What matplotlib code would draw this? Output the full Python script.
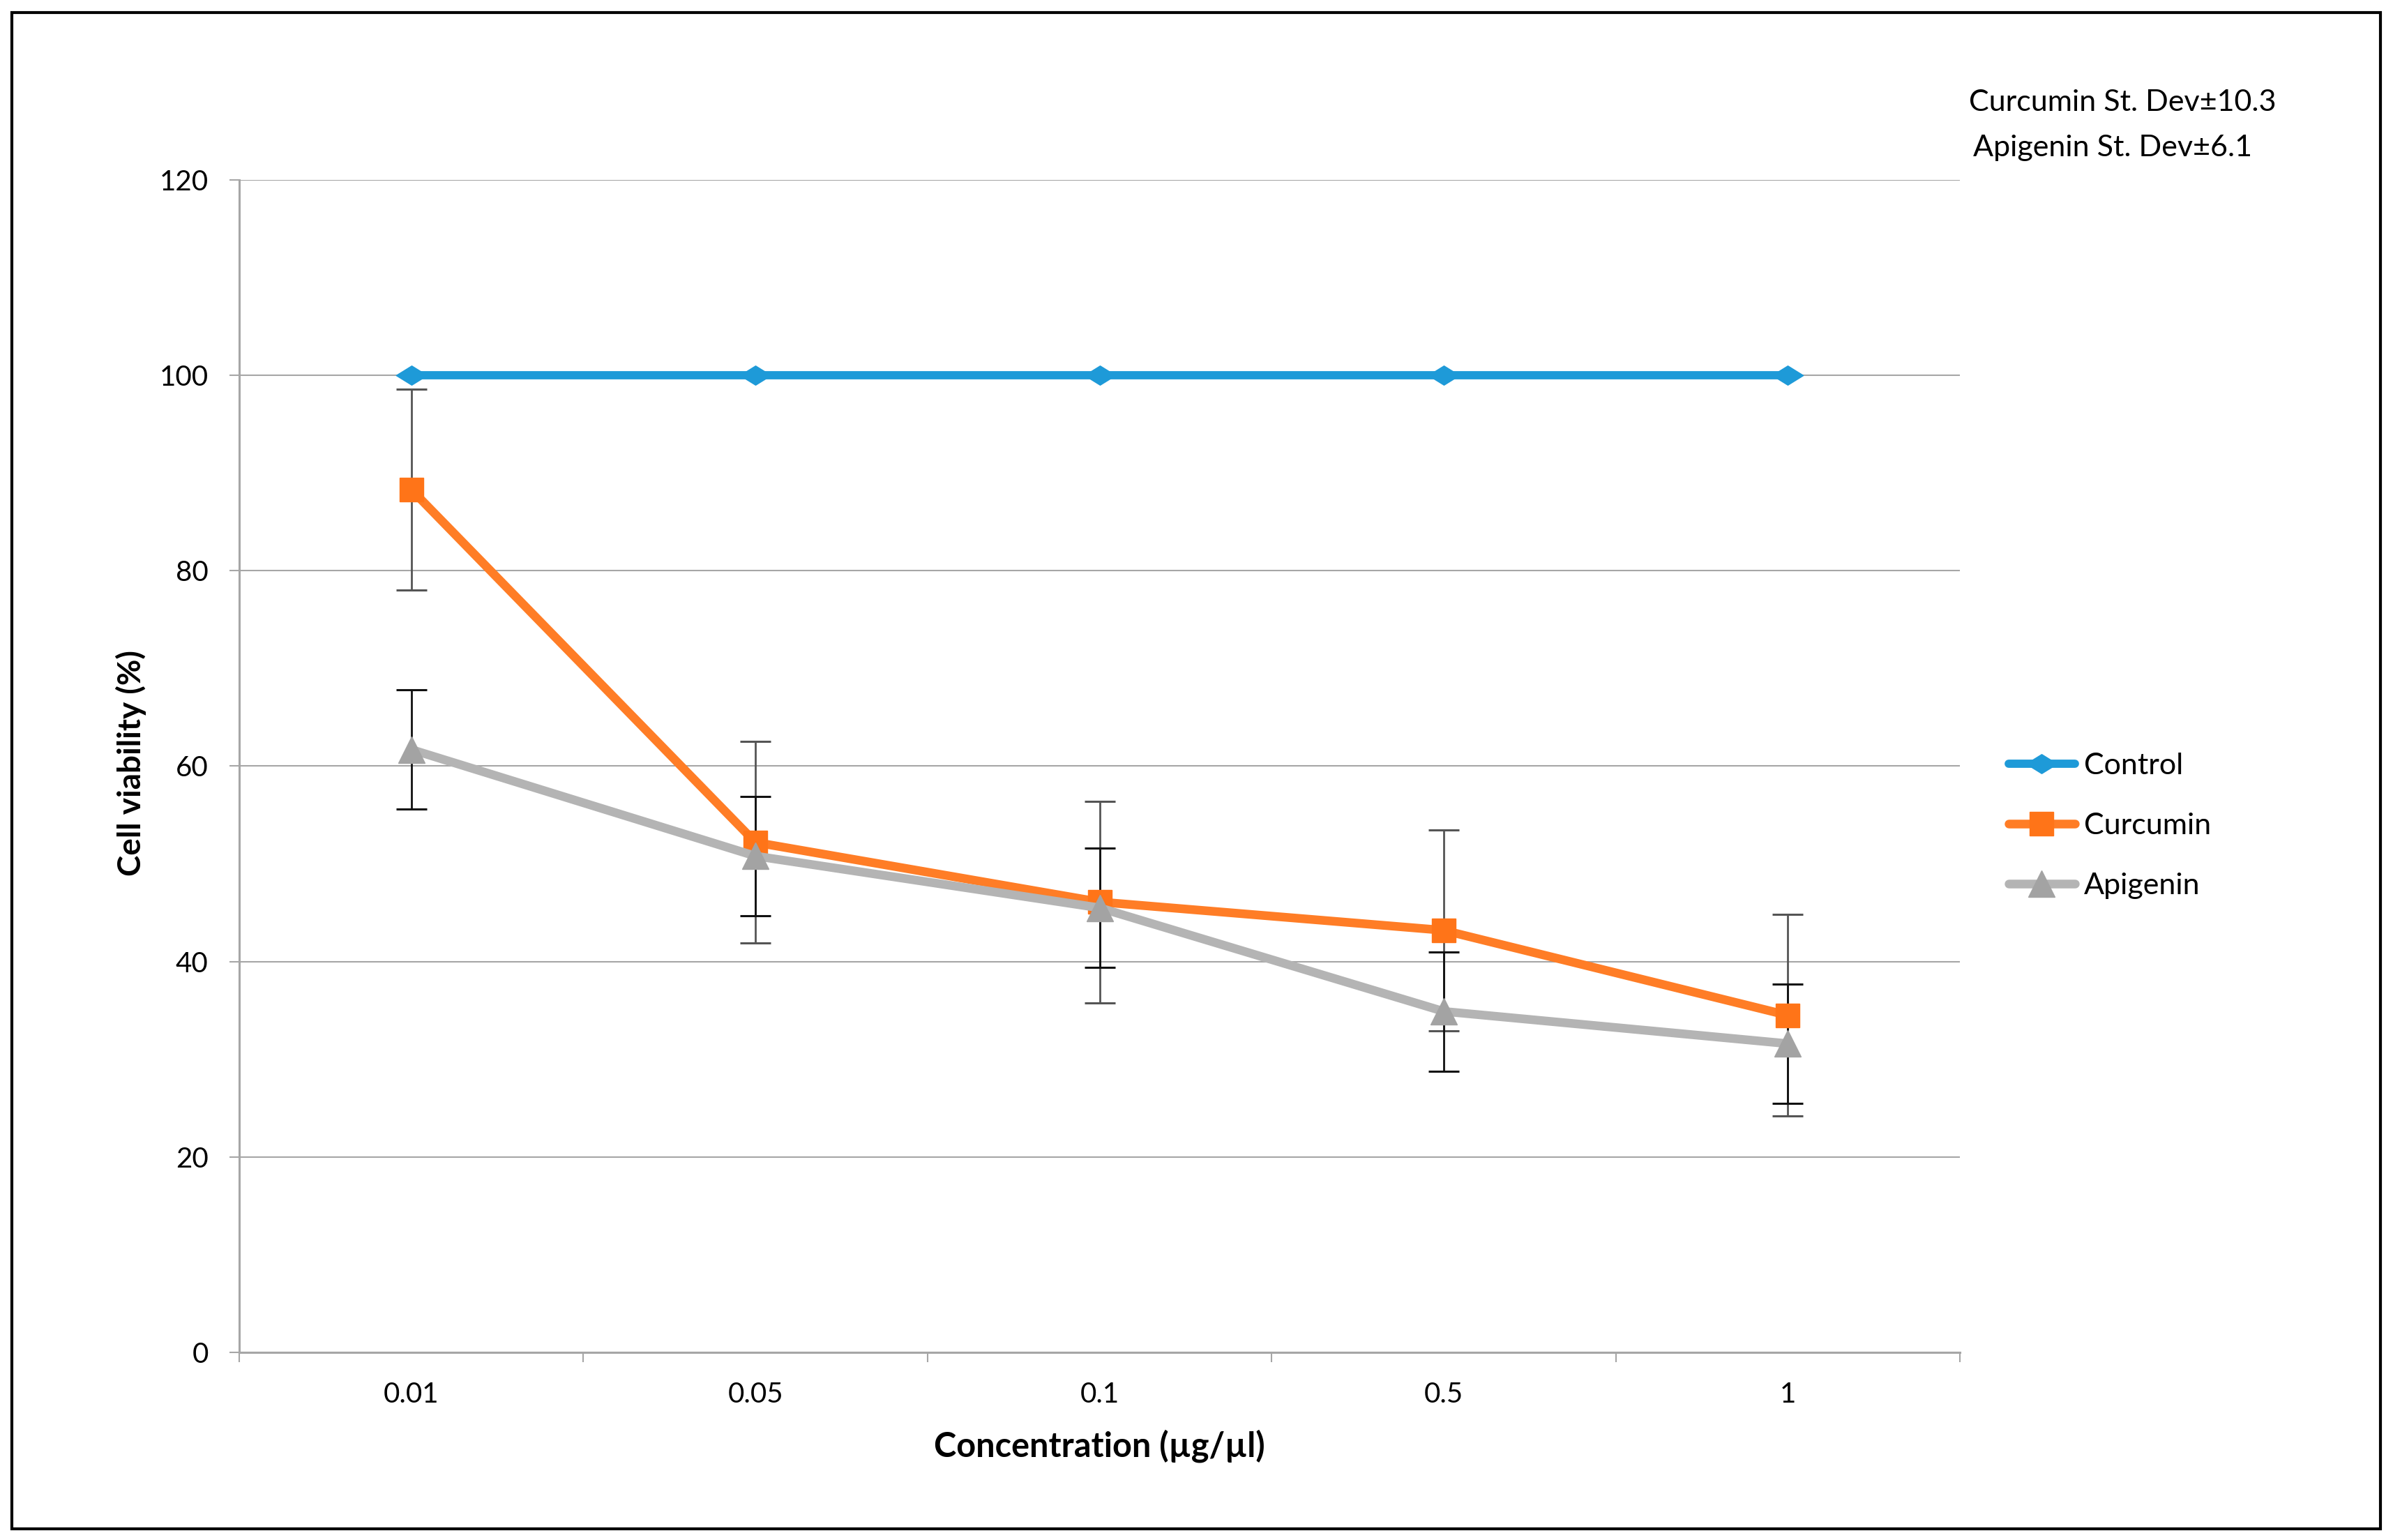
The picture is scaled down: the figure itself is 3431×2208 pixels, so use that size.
import numpy as np
import matplotlib
matplotlib.use("Agg")
import matplotlib.pyplot as plt
from matplotlib.patches import Rectangle
from matplotlib.path import Path

plt.rcParams['font.family'] = ['Lato', 'DejaVu Sans']

categories = ["0.01", "0.05", "0.1", "0.5", "1"]
control = [100, 100, 100, 100, 100]
curcumin = [88.3, 52.2, 46.1, 43.2, 34.5]
apigenin = [61.7, 50.8, 45.5, 34.9, 31.6]
curcumin_sd = 10.3
apigenin_sd = 6.1
y_ticks = [0, 20, 40, 60, 80, 100, 120]

fig = plt.figure(figsize=(34.31, 22.08), dpi=100)
ax = fig.add_axes([0.1, 0.1218, 0.719, 0.7614])

x = np.arange(len(categories)) + 0.5

diamond = Path([(-1, 0), (0, 0.62), (1, 0), (0, -0.62), (-1, 0)],
               [Path.MOVETO, Path.LINETO, Path.LINETO, Path.LINETO, Path.CLOSEPOLY])

blue = '#1e9ad8'
orange_line = '#ff7d26'
orange_mk = '#ff7418'
grey_line = '#b4b4b4'
grey_mk = '#a3a3a3'

# error bars (behind lines)
ax.errorbar(x, curcumin, yerr=curcumin_sd, fmt='none', ecolor='#555555',
            elinewidth=2.0, capsize=16, capthick=2.2, zorder=2)
ax.errorbar(x, apigenin, yerr=apigenin_sd, fmt='none', ecolor='#111111',
            elinewidth=2.0, capsize=16, capthick=2.2, zorder=2)

ax.plot(x, control, color=blue, lw=8.5, marker=diamond, markersize=32,
        markerfacecolor=blue, markeredgecolor=blue, label='Control', zorder=3,
        solid_capstyle='round')
ax.plot(x, curcumin, color=orange_line, lw=9, marker='s', markersize=25,
        markerfacecolor=orange_mk, markeredgecolor=orange_mk, label='Curcumin', zorder=4,
        solid_capstyle='round')
ax.plot(x, apigenin, color=grey_line, lw=9, marker='^', markersize=27,
        markerfacecolor=grey_mk, markeredgecolor=grey_mk, label='Apigenin', zorder=5,
        solid_capstyle='round')

ax.set_xlim(0, len(categories))
ax.set_ylim(0, 120)
ax.set_yticks(y_ticks)
ax.set_yticklabels([str(v) for v in y_ticks], fontsize=29)
ax.yaxis.grid(True, color='#a6a6a6', lw=1.5)
ax.set_axisbelow(True)

ax.set_xticks(np.arange(len(categories) + 1))
ax.set_xticklabels([])
ax.set_xticks(x, minor=True)
ax.set_xticklabels(categories, minor=True, fontsize=29)
ax.tick_params(axis='x', which='major', length=10, width=1.5, color='#a6a6a6', direction='out')
ax.tick_params(axis='x', which='minor', length=0, pad=30)
ax.tick_params(axis='y', length=10, width=1.5, color='#a6a6a6', pad=22)

for s in ['top', 'right']:
    ax.spines[s].set_visible(False)
for s in ['left', 'bottom']:
    ax.spines[s].set_color('#a6a6a6')
    ax.spines[s].set_linewidth(2.2)

ax.set_xlabel('Concentration (µg/µl)', fontsize=35, fontweight='bold', va='center')
ax.xaxis.set_label_coords(0.5, -0.080)
ax.set_ylabel('Cell viability (%)', fontsize=33, fontweight='bold', va='center')
ax.yaxis.set_label_coords(-0.0628, 0.5027)

leg = fig.legend(loc='center left', bbox_to_anchor=(2880 / 3431, 1 - 1184 / 2208),
                 frameon=False, fontsize=31, borderpad=0, handlelength=2.2,
                 handletextpad=0.3, labelspacing=1.12, borderaxespad=0)

fig.text(2823 / 3431, 1 - 147 / 2208, 'Curcumin St. Dev±10.3', fontsize=31, va='center', ha='left')
fig.text(2829 / 3431, 1 - 212 / 2208, 'Apigenin St. Dev±6.1', fontsize=31, va='center', ha='left')

fig.patches.append(Rectangle((0.0051, 0.0072), 0.9897, 0.9848, transform=fig.transFigure,
                             fill=False, edgecolor='black', lw=3, zorder=10))

fig.savefig('out.png', dpi=100, facecolor='white')
